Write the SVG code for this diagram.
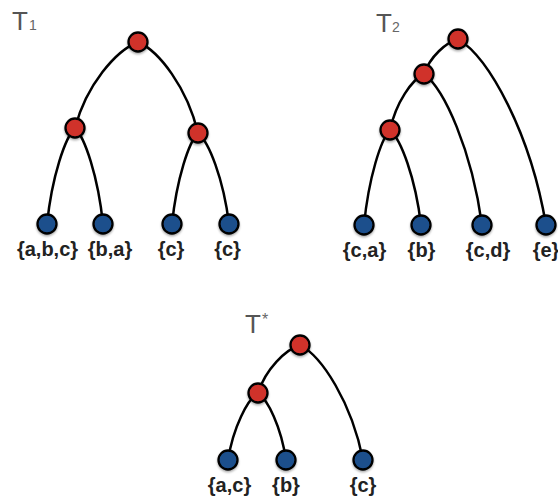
<svg xmlns="http://www.w3.org/2000/svg" width="558" height="500" viewBox="0 0 558 500">
<defs>
<style>
.edge{fill:none;stroke:#000;stroke-width:2.5;stroke-linecap:round}
.in{fill:#d0302c;stroke:#000;stroke-width:2.3}
.lf{fill:#1c4f8c;stroke:#000;stroke-width:2.3}
.lbl{font-family:"Liberation Sans",Arial,sans-serif;font-weight:bold;font-size:20px;fill:#222;text-anchor:middle}
.ttl{font-family:"Liberation Sans",Arial,sans-serif;font-size:26px;fill:#555}
.sub{font-family:"Liberation Sans",Arial,sans-serif;font-size:14px;fill:#666}
</style>
<filter id="sh" x="-50%" y="-50%" width="200%" height="200%">
<feDropShadow dx="0" dy="1.5" stdDeviation="1.2" flood-color="#000" flood-opacity="0.35"/>
</filter>
</defs>
<rect width="558" height="500" fill="#fff"/>
<g id="titles">
<text class="ttl" x="12" y="30">T</text><text class="sub" x="29" y="30">1</text>
<text class="ttl" x="376" y="32">T</text><text class="sub" x="392" y="32">2</text>
<text class="ttl" x="245" y="333">T</text><text class="sub" x="262" y="325" style="font-size:16px">*</text>
</g>
<g id="connectors">
<path class="edge" d="M138,42 C115.95,50.6 86.3,85 75,128"/>
<path class="edge" d="M138,42 C159,51.1 187.2,87.5 198,133"/>
<path class="edge" d="M75,128 C65.2,137.6 52,176 47,224"/>
<path class="edge" d="M75,128 C84.8,137.6 98,176 103,224"/>
<path class="edge" d="M198,133 C188.9,142.1 176.7,178.5 172,224"/>
<path class="edge" d="M198,133 C208.9,142.1 223.4,178.5 229,224"/>
<path class="edge" d="M458,39 C446.1,42.5 430.1,56.5 424,74"/>
<path class="edge" d="M458,39 C488.8,57.6 530.2,132 546,225"/>
<path class="edge" d="M424,74 C412.1,79.6 396.1,102 390,130"/>
<path class="edge" d="M424,74 C444.3,89.1 471.6,149.5 482,225"/>
<path class="edge" d="M390,130 C380.9,139.5 368.7,177.5 364,225"/>
<path class="edge" d="M390,130 C400.9,139.5 415.4,177.5 421,225"/>
<path class="edge" d="M300,345 C285.3,349.8 265.6,369 258,393"/>
<path class="edge" d="M300,345 C322,356.5 351.7,402.5 363,460"/>
<path class="edge" d="M258,393 C247.5,399.7 233.4,426.5 228,460"/>
<path class="edge" d="M258,393 C267.8,399.7 281,426.5 286,460"/>
</g>
<g id="t1-root" filter="url(#sh)"><circle class="in" cx="138" cy="42" r="9.5"/></g>
<g id="t1-left" filter="url(#sh)"><circle class="in" cx="75" cy="128" r="9.5"/></g>
<g id="t1-right" filter="url(#sh)"><circle class="in" cx="198" cy="133" r="9.5"/></g>
<g id="t1-leaf1"><circle class="lf" cx="47" cy="224" r="9.5" filter="url(#sh)"/><text class="lbl" x="47.5" y="256">{a,b,c}</text></g>
<g id="t1-leaf2"><circle class="lf" cx="103" cy="224" r="9.5" filter="url(#sh)"/><text class="lbl" x="110" y="256">{b,a}</text></g>
<g id="t1-leaf3"><circle class="lf" cx="172" cy="224" r="9.5" filter="url(#sh)"/><text class="lbl" x="171" y="256">{c}</text></g>
<g id="t1-leaf4"><circle class="lf" cx="229" cy="224" r="9.5" filter="url(#sh)"/><text class="lbl" x="227.5" y="256">{c}</text></g>
<g id="t2-root" filter="url(#sh)"><circle class="in" cx="458" cy="39" r="9.5"/></g>
<g id="t2-n2" filter="url(#sh)"><circle class="in" cx="424" cy="74" r="9.5"/></g>
<g id="t2-n3" filter="url(#sh)"><circle class="in" cx="390" cy="130" r="9.5"/></g>
<g id="t2-leaf1"><circle class="lf" cx="364" cy="225" r="9.5" filter="url(#sh)"/><text class="lbl" x="364.5" y="257">{c,a}</text></g>
<g id="t2-leaf2"><circle class="lf" cx="421" cy="225" r="9.5" filter="url(#sh)"/><text class="lbl" x="421.5" y="257">{b}</text></g>
<g id="t2-leaf3"><circle class="lf" cx="482" cy="225" r="9.5" filter="url(#sh)"/><text class="lbl" x="488" y="257">{c,d}</text></g>
<g id="t2-leaf4"><circle class="lf" cx="546" cy="225" r="9.5" filter="url(#sh)"/><text class="lbl" x="546" y="257">{e}</text></g>
<g id="ts-root" filter="url(#sh)"><circle class="in" cx="300" cy="345" r="9.5"/></g>
<g id="ts-n2" filter="url(#sh)"><circle class="in" cx="258" cy="393" r="9.5"/></g>
<g id="ts-leaf1"><circle class="lf" cx="228" cy="460" r="9.5" filter="url(#sh)"/><text class="lbl" x="229.5" y="492">{a,c}</text></g>
<g id="ts-leaf2"><circle class="lf" cx="286" cy="460" r="9.5" filter="url(#sh)"/><text class="lbl" x="286" y="492">{b}</text></g>
<g id="ts-leaf3"><circle class="lf" cx="363" cy="460" r="9.5" filter="url(#sh)"/><text class="lbl" x="363" y="492">{c}</text></g>
</svg>
